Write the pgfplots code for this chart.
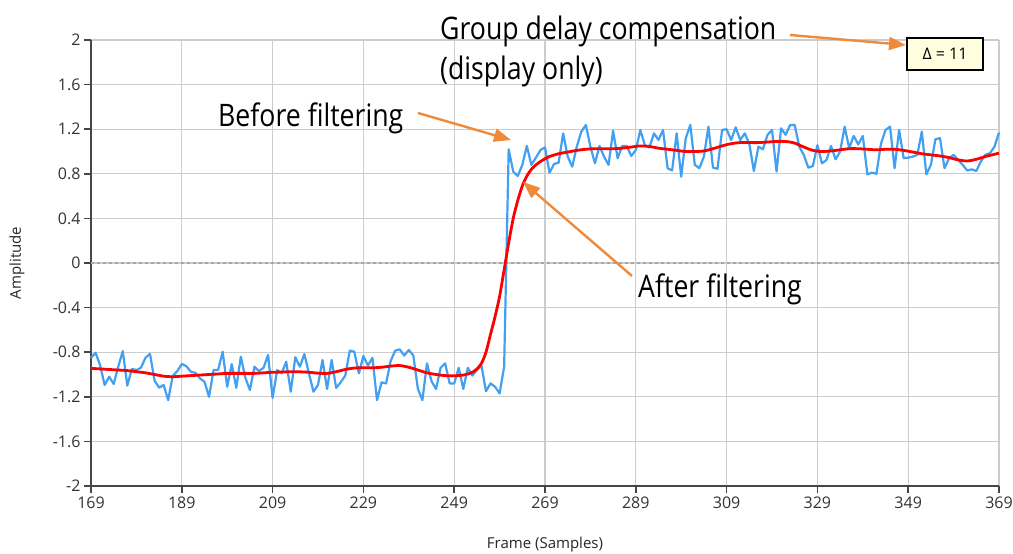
\documentclass[border=0pt]{standalone}
\usepackage{fontspec}
\setmainfont{Open Sans}
\newfontfamily\annfont[FakeStretch=0.86]{Open Sans}
\usepackage{pgfplots}
\usepackage{pgfplotstable}
\pgfplotsset{compat=1.18}
\usetikzlibrary{arrows.meta}
\definecolor{sigblue}{RGB}{66,160,242}
\definecolor{ann}{RGB}{240,138,58}
\definecolor{gridc}{RGB}{204,204,204}
\definecolor{axc}{RGB}{70,70,70}
\definecolor{boxfill}{RGB}{255,255,224}

\pgfplotstableread{
x y
169 -0.85
170 -0.805
171 -0.915
172 -1.094
173 -1.02
174 -1.085
175 -0.93
176 -0.79
177 -1.10
178 -0.95
179 -0.96
180 -0.94
181 -0.85
182 -0.815
183 -1.055
184 -1.118
185 -1.094
186 -1.23
187 -1.013
188 -0.97
189 -0.906
190 -0.925
191 -0.976
192 -0.985
193 -1.035
194 -1.065
195 -1.20
196 -0.96
197 -0.96
198 -0.795
199 -1.11
200 -0.906
201 -1.12
202 -0.84
203 -1.03
204 -1.14
205 -0.93
206 -0.97
207 -0.94
208 -0.825
209 -1.21
210 -0.96
211 -0.99
212 -0.885
213 -1.154
214 -0.845
215 -0.93
216 -0.816
217 -0.99
218 -1.154
219 -1.094
220 -0.87
221 -1.13
222 -0.87
223 -1.12
224 -1.07
225 -1.01
226 -0.786
227 -0.795
228 -0.99
229 -0.834
230 -0.92
231 -0.85
232 -1.23
233 -1.07
234 -1.08
235 -0.88
236 -0.786
237 -0.775
238 -0.83
239 -0.78
240 -0.83
241 -1.13
242 -1.23
243 -0.90
244 -1.06
245 -1.13
246 -0.94
247 -0.90
248 -1.08
249 -1.08
250 -0.94
251 -1.13
252 -0.94
253 -1.01
254 -0.96
255 -0.92
256 -1.15
257 -1.08
258 -1.11
259 -1.17
260 -0.93
261 1.02
262 0.82
263 0.78
264 0.88
265 1.05
266 0.88
267 0.945
268 1.013
269 1.037
270 0.81
271 0.888
272 0.90
273 1.163
274 0.954
275 0.864
276 1.043
277 1.178
278 1.238
279 1.043
280 0.894
281 1.05
282 0.954
283 0.88
284 1.187
285 0.94
286 1.05
287 1.05
288 0.96
289 1.013
290 1.193
291 1.057
292 1.037
293 1.163
294 1.103
295 1.193
296 0.85
297 0.83
298 1.163
299 0.774
300 1.118
301 1.238
302 0.88
303 0.85
304 0.954
305 1.223
306 0.855
307 0.845
308 1.193
309 1.20
310 1.103
311 1.217
312 1.103
313 1.163
314 1.07
315 0.825
316 1.043
317 1.02
318 1.148
319 1.193
320 0.82
321 1.208
322 1.15
323 1.238
324 1.238
325 1.043
326 0.97
327 0.855
328 0.87
329 1.057
330 0.894
331 0.924
332 1.05
333 0.93
334 0.998
335 1.223
336 1.03
337 1.14
338 1.063
339 1.14
340 0.795
341 0.81
342 0.80
343 1.07
344 1.193
345 1.223
346 0.85
347 1.193
348 0.94
349 0.945
350 0.954
351 0.97
352 1.178
353 0.795
354 0.88
355 1.11
356 1.12
357 0.85
358 0.94
359 0.97
360 0.924
361 0.88
362 0.83
363 0.84
364 0.825
365 0.91
366 0.97
367 0.985
368 1.043
369 1.17
}\rawdata

\pgfplotstableread{
x y
169 -0.945
171 -0.95
173 -0.955
175 -0.96
177 -0.965
179 -0.975
181 -0.985
183 -1.0
185 -1.015
187 -1.02
189 -1.015
191 -1.01
193 -1.005
195 -1.0
197 -0.995
199 -0.99
201 -0.99
203 -0.99
205 -0.99
207 -0.985
209 -0.98
211 -0.978
213 -0.975
215 -0.976
217 -0.98
219 -0.988
221 -0.99
223 -0.975
225 -0.955
227 -0.942
229 -0.94
231 -0.94
233 -0.935
235 -0.925
237 -0.92
239 -0.935
241 -0.96
243 -0.985
245 -1.0
247 -1.01
249 -1.012
251 -1.005
252 -0.995
253 -0.98
254 -0.95
255 -0.9
256 -0.8
257 -0.64
258 -0.48
259 -0.3
260 -0.06
261 0.18
262 0.40
263 0.56
264 0.69
265 0.78
266 0.84
267 0.88
268 0.91
269 0.935
270 0.955
272 0.98
274 0.995
276 1.01
278 1.02
280 1.025
282 1.025
284 1.025
286 1.03
288 1.04
290 1.05
292 1.045
294 1.03
296 1.02
298 1.01
300 1.0
302 1.0
304 1.005
306 1.025
308 1.05
310 1.07
312 1.08
314 1.08
316 1.08
318 1.085
320 1.09
322 1.09
324 1.075
326 1.04
328 1.01
330 1.0
332 1.005
334 1.015
336 1.025
338 1.025
340 1.02
342 1.015
344 1.02
346 1.02
348 1.01
350 0.995
352 0.98
354 0.97
356 0.96
358 0.945
360 0.925
362 0.915
364 0.93
366 0.955
368 0.975
369 0.985
}\filtdata

\begin{document}
\begin{tikzpicture}[x=1pt,y=1pt]
\useasboundingbox (0,0) rectangle (1013,554);
\begin{axis}[
  at={(91pt,68pt)}, anchor=south west,
  scale only axis, width=908pt, height=446pt,
  xmin=169, xmax=369, ymin=-2, ymax=2,
  xtick={169,189,...,369},
  ytick={-2,-1.6,...,2.01},
  yticklabel style={/pgf/number format/fixed,/pgf/number format/precision=1},
  /pgf/number format/assume math mode=true,
  ticklabel style={font=\fontsize{16}{18}\selectfont, color=black!80},
  grid=major,
  major grid style={gridc, line width=1.3pt},
  axis x line*=bottom, axis y line*=left,
  axis line style={axc, line width=1.8pt},
  tick style={axc, line width=1.5pt},
  tick align=outside,
  major tick length=7pt,
  xlabel={Frame (Samples)},
  ylabel={Amplitude},
  label style={font=\fontsize{15}{17}\selectfont, color=black!85},
  xlabel style={at={(axis description cs:0.5,0)}, anchor=center, yshift=-59pt},
  ylabel style={at={(axis description cs:-0.0815,0.5)}, anchor=center},
  clip=false,
]
\addplot[gray!70, dashed, line width=1.3pt, forget plot] coordinates {(169,0) (369,0)};
\addplot[sigblue, line width=2.2pt, line join=round] table[x=x,y=y] {\rawdata};
\addplot[red, line width=2.8pt, smooth, line join=round] table[x=x,y=y] {\filtdata};
\end{axis}
% annotations
\begin{scope}[font=\annfont\fontsize{31}{34}\selectfont]
\node[anchor=base west, inner sep=0] at (440,514) {Group delay compensation};
\node[anchor=base west, inner sep=0] at (440,474) {(display only)};
\node[anchor=base west, inner sep=0] at (218,427) {Before filtering};
\node[anchor=base west, inner sep=0] at (638,256) {After filtering};
\end{scope}
\draw[ann, line width=2.4pt, -{Triangle[length=17pt,width=13pt]}] (790,519) -- (906,509);
\draw[ann, line width=2.4pt, -{Triangle[length=17pt,width=13pt]}] (418,441) -- (511,414);
\draw[ann, line width=2.4pt, -{Triangle[length=17pt,width=13pt]}] (632,278) -- (523,372);
\draw[black, line width=1.2pt, fill=boxfill] (907,516) rectangle (983,484);
\node[font=\fontsize{16}{18}\selectfont] at (945,500) {Δ = 11};
\end{tikzpicture}
\end{document}
